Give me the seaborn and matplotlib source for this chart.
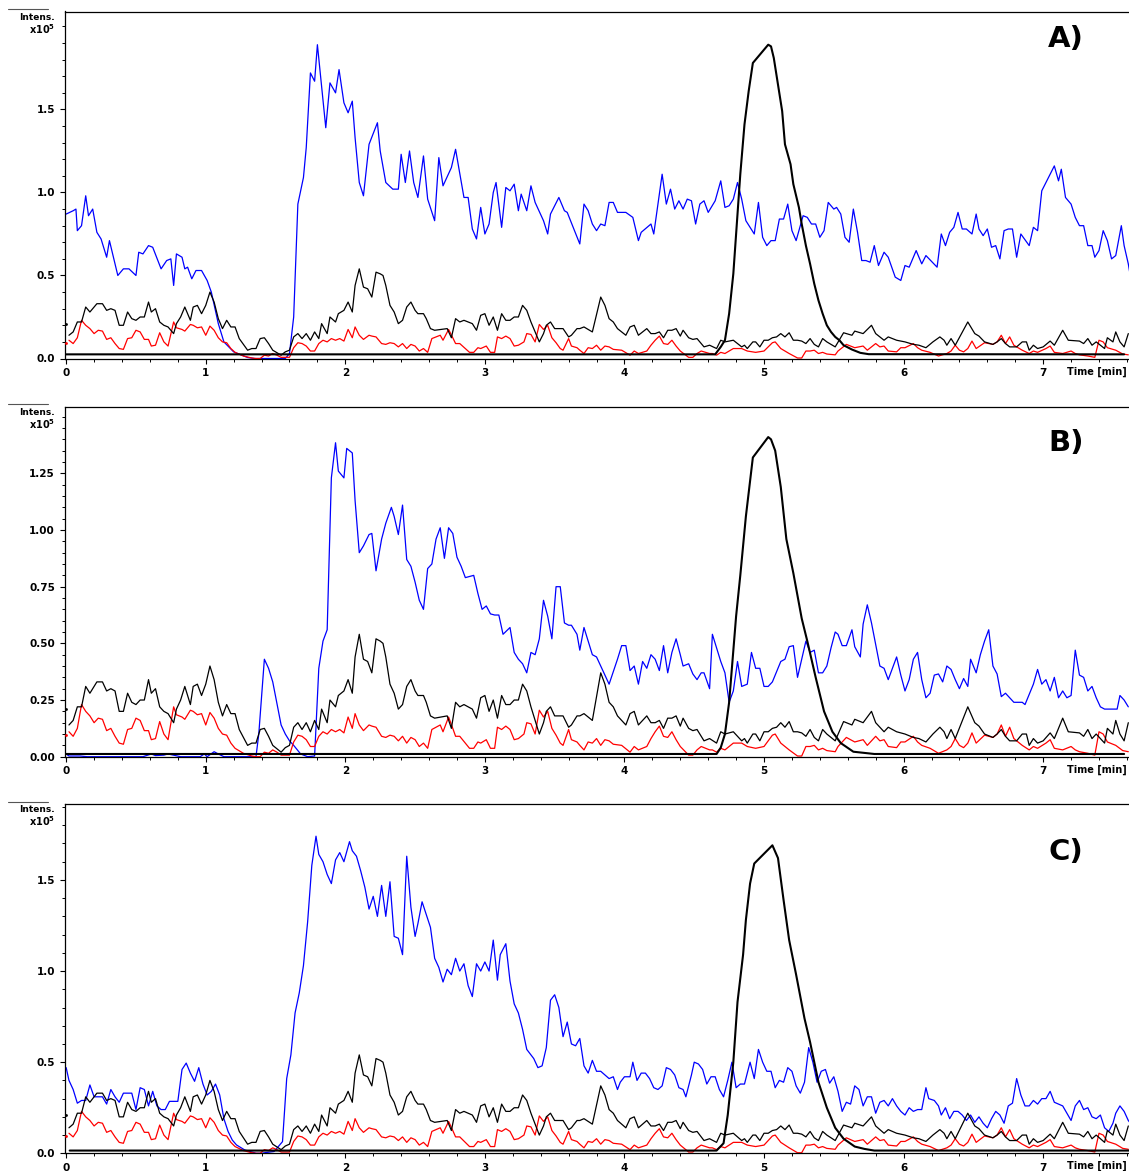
import numpy as np
import pandas as pd
import matplotlib
matplotlib.use("Agg")
import matplotlib.pyplot as plt
import seaborn as sns
from matplotlib.ticker import FixedLocator, MultipleLocator, FormatStrFormatter
from matplotlib.lines import Line2D

# ---------------- data (intensity in units of 1e5, time in min) ----------------
black_noise = [(0.00,0.21),(0.02,0.14),(0.05,0.16),(0.08,0.22),(0.11,0.22),(0.14,0.31),(0.17,0.28),(0.22,0.33),(0.26,0.33),
 (0.29,0.29),(0.32,0.30),(0.35,0.29),(0.38,0.20),(0.41,0.20),(0.44,0.28),(0.47,0.24),(0.50,0.23),(0.53,0.25),(0.56,0.25),
 (0.59,0.34),(0.61,0.28),(0.64,0.30),(0.67,0.22),(0.70,0.20),(0.73,0.19),(0.77,0.15),(0.79,0.21),(0.82,0.25),(0.85,0.31),
 (0.89,0.23),(0.91,0.31),(0.94,0.32),(0.97,0.27),(1.00,0.32),(1.03,0.40),(1.06,0.34),(1.09,0.24),(1.12,0.18),(1.15,0.23),
 (1.18,0.19),(1.21,0.19),(1.24,0.12),(1.30,0.05),(1.33,0.06),(1.36,0.06),(1.39,0.12),(1.42,0.125),(1.45,0.09),(1.48,0.05),
 (1.54,0.02),(1.57,0.04),(1.60,0.05),(1.63,0.13),(1.66,0.15),(1.69,0.12),(1.72,0.15),(1.75,0.11),(1.78,0.16),(1.81,0.12),
 (1.83,0.21),(1.87,0.15),(1.89,0.25),(1.93,0.22),(1.95,0.27),(1.99,0.29),(2.02,0.34),(2.05,0.28),(2.07,0.44),(2.10,0.54),
 (2.13,0.43),(2.16,0.42),(2.19,0.37),(2.22,0.52),(2.25,0.51),(2.27,0.50),(2.29,0.44),(2.32,0.32),(2.35,0.28),(2.38,0.21),
 (2.41,0.23),(2.44,0.31),(2.47,0.34),(2.50,0.29),(2.52,0.27),(2.56,0.27),(2.58,0.24),(2.61,0.18),(2.64,0.17),(2.73,0.18),
 (2.76,0.125),(2.79,0.24),(2.82,0.22),(2.85,0.23),(2.88,0.22),(2.91,0.21),(2.94,0.17),(2.97,0.26),(3.00,0.27),(3.03,0.20),
 (3.06,0.25),(3.09,0.17),(3.12,0.27),(3.15,0.23),(3.18,0.23),(3.21,0.25),(3.24,0.25),(3.27,0.32),(3.30,0.29),(3.33,0.22),
 (3.39,0.10),(3.42,0.15),(3.44,0.20),(3.47,0.22),(3.50,0.18),(3.56,0.18),(3.60,0.13),(3.62,0.14),(3.66,0.18),(3.68,0.18),
 (3.71,0.19),(3.77,0.16),(3.83,0.37),(3.86,0.32),(3.89,0.24),(3.92,0.22),(3.95,0.18),(3.98,0.16),(4.01,0.14),(4.04,0.19),
 (4.07,0.20),(4.10,0.14),(4.13,0.16),(4.16,0.18),(4.19,0.15),(4.22,0.15),(4.25,0.16),(4.28,0.125),(4.31,0.17),(4.34,0.17),
 (4.37,0.18),(4.40,0.135),(4.42,0.17),(4.46,0.125),(4.49,0.115),(4.52,0.12),(4.55,0.09),(4.57,0.07),(4.61,0.08),(4.66,0.06),
 (4.69,0.11),(4.72,0.10),(4.78,0.11),(4.84,0.07),(4.86,0.08),(4.88,0.06),(4.92,0.10),(4.94,0.10),(4.97,0.07),(5.00,0.11),
 (5.03,0.11),(5.06,0.125),(5.09,0.13),(5.12,0.15),(5.15,0.13),(5.18,0.155),(5.21,0.11),(5.24,0.11),(5.27,0.105),(5.30,0.09),
 (5.33,0.12),(5.36,0.085),(5.39,0.07),(5.42,0.12),(5.45,0.10),(5.51,0.07),(5.57,0.155),(5.63,0.14),(5.65,0.165),(5.71,0.15),
 (5.77,0.20),(5.80,0.15),(5.86,0.11),(5.89,0.13),(5.95,0.11),(6.01,0.10),(6.07,0.085),(6.11,0.08),(6.16,0.065),(6.21,0.10),
 (6.26,0.13),(6.29,0.11),(6.31,0.08),(6.34,0.12),(6.37,0.08),(6.46,0.22),(6.51,0.15),(6.54,0.135),(6.58,0.10),(6.64,0.085),
 (6.67,0.10),(6.70,0.12),(6.73,0.09),(6.76,0.07),(6.81,0.07),(6.85,0.10),(6.88,0.10),(6.90,0.05),(6.93,0.08),(6.96,0.06),
 (7.00,0.07),(7.05,0.105),(7.08,0.08),(7.14,0.17),(7.18,0.11),(7.26,0.105),(7.29,0.09),(7.32,0.12),(7.35,0.08),(7.38,0.10),
 (7.44,0.06),(7.46,0.125),(7.50,0.10),(7.52,0.16),(7.55,0.10),(7.58,0.07),(7.61,0.15)]

red_trace = [(0.00,0.095),(0.02,0.11),(0.05,0.09),(0.08,0.125),(0.11,0.23),(0.14,0.20),(0.17,0.18),(0.20,0.15),(0.23,0.17),
 (0.26,0.165),(0.29,0.115),(0.32,0.125),(0.35,0.09),(0.38,0.06),(0.41,0.055),(0.44,0.12),(0.47,0.125),(0.50,0.17),(0.53,0.16),
 (0.56,0.115),(0.59,0.115),(0.61,0.075),(0.64,0.08),(0.67,0.155),(0.70,0.10),(0.73,0.075),(0.77,0.22),(0.79,0.185),(0.83,0.175),
 (0.85,0.165),(0.89,0.205),(0.91,0.20),(0.94,0.185),(0.97,0.19),(1.00,0.14),(1.03,0.195),(1.06,0.17),(1.09,0.125),(1.12,0.10),
 (1.15,0.095),(1.18,0.06),(1.21,0.037),(1.27,0.015),(1.33,0.003),(1.36,0.0),(1.39,0.0),(1.42,0.02),(1.45,0.015),(1.48,0.03),
 (1.51,0.02),(1.54,0.007),(1.60,0.007),(1.63,0.065),(1.66,0.095),(1.69,0.09),(1.72,0.075),(1.75,0.045),(1.78,0.045),(1.81,0.09),
 (1.84,0.11),(1.87,0.10),(1.90,0.12),(1.93,0.11),(1.96,0.12),(1.99,0.105),(2.02,0.175),(2.05,0.125),(2.07,0.19),(2.10,0.14),
 (2.13,0.115),(2.17,0.14),(2.19,0.135),(2.22,0.13),(2.26,0.09),(2.29,0.085),(2.32,0.095),(2.35,0.09),(2.38,0.07),(2.41,0.09),
 (2.44,0.06),(2.47,0.085),(2.50,0.075),(2.53,0.045),(2.56,0.06),(2.59,0.037),(2.62,0.12),(2.65,0.13),(2.68,0.14),(2.70,0.11),
 (2.74,0.175),(2.77,0.125),(2.79,0.09),(2.82,0.09),(2.86,0.06),(2.89,0.037),(2.92,0.037),(2.95,0.065),(2.97,0.06),(3.01,0.075),
 (3.04,0.037),(3.07,0.037),(3.09,0.13),(3.12,0.12),(3.15,0.135),(3.18,0.12),(3.21,0.075),(3.24,0.08),(3.28,0.10),(3.30,0.15),
 (3.33,0.145),(3.36,0.10),(3.39,0.205),(3.42,0.175),(3.45,0.20),(3.48,0.125),(3.51,0.095),(3.54,0.06),(3.56,0.05),(3.60,0.12),
 (3.62,0.075),(3.66,0.065),(3.68,0.05),(3.71,0.03),(3.74,0.065),(3.77,0.06),(3.80,0.08),(3.83,0.05),(3.86,0.075),(3.89,0.07),
 (3.92,0.055),(3.98,0.05),(4.04,0.02),(4.07,0.045),(4.10,0.03),(4.16,0.045),(4.19,0.08),(4.22,0.11),(4.25,0.135),(4.28,0.09),
 (4.31,0.085),(4.34,0.11),(4.37,0.075),(4.40,0.045),(4.46,0.007),(4.49,0.007),(4.52,0.03),(4.55,0.045),(4.57,0.04),(4.61,0.03),
 (4.63,0.03),(4.66,0.02),(4.69,0.037),(4.72,0.03),(4.75,0.045),(4.78,0.06),(4.84,0.06),(4.88,0.045),(4.94,0.037),(5.00,0.045),
 (5.06,0.095),(5.08,0.10),(5.12,0.06),(5.18,0.03),(5.24,0.003),(5.27,0.003),(5.30,0.045),(5.33,0.045),(5.36,0.05),(5.39,0.03),
 (5.42,0.037),(5.45,0.027),(5.51,0.022),(5.53,0.045),(5.59,0.085),(5.65,0.065),(5.71,0.075),(5.74,0.05),(5.80,0.09),(5.83,0.07),
 (5.86,0.075),(5.89,0.045),(5.95,0.04),(5.98,0.065),(6.01,0.065),(6.07,0.09),(6.10,0.065),(6.13,0.05),(6.19,0.037),(6.25,0.015),
 (6.31,0.03),(6.34,0.045),(6.37,0.08),(6.40,0.05),(6.43,0.04),(6.46,0.06),(6.49,0.105),(6.52,0.06),(6.58,0.095),(6.64,0.085),
 (6.67,0.10),(6.70,0.14),(6.73,0.09),(6.76,0.13),(6.79,0.08),(6.85,0.05),(6.90,0.03),(6.93,0.045),(6.96,0.037),(7.02,0.06),
 (7.05,0.075),(7.08,0.037),(7.14,0.03),(7.20,0.045),(7.23,0.03),(7.26,0.022),(7.32,0.015),(7.37,0.007),(7.40,0.11),(7.43,0.10),
 (7.46,0.065),(7.52,0.05),(7.57,0.027),(7.61,0.022)]

peak_A = [(0.0,0.025),(4.65,0.025),(4.69,0.07),(4.72,0.11),(4.75,0.27),(4.78,0.51),(4.81,0.87),(4.83,1.11),(4.86,1.41),
 (4.89,1.61),(4.92,1.78),(4.97,1.83),(5.03,1.89),(5.05,1.88),(5.07,1.81),(5.10,1.65),(5.13,1.49),(5.15,1.29),(5.19,1.17),
 (5.21,1.05),(5.25,0.91),(5.27,0.81),(5.30,0.68),(5.33,0.57),(5.36,0.45),(5.39,0.35),(5.42,0.27),(5.45,0.20),(5.48,0.16),
 (5.51,0.13),(5.54,0.11),(5.57,0.08),(5.63,0.054),(5.69,0.034),(5.75,0.026),(7.58,0.025)]
peak_B = [(0.0,0.012),(4.66,0.012),(4.69,0.04),(4.72,0.10),(4.75,0.24),(4.80,0.62),(4.83,0.80),(4.87,1.06),(4.92,1.32),
 (5.03,1.41),(5.05,1.40),(5.08,1.35),(5.12,1.19),(5.16,0.96),(5.21,0.81),(5.27,0.61),(5.31,0.51),(5.37,0.35),(5.43,0.20),
 (5.49,0.11),(5.55,0.06),(5.64,0.022),(5.79,0.012),(7.58,0.012)]
peak_C = [(0.025,0.015),(4.66,0.015),(4.71,0.055),(4.74,0.21),(4.78,0.50),(4.81,0.83),(4.85,1.09),(4.87,1.28),(4.90,1.48),
 (4.93,1.59),(5.06,1.69),(5.10,1.62),(5.14,1.39),(5.18,1.17),(5.23,0.98),(5.29,0.74),(5.33,0.61),(5.39,0.39),(5.45,0.25),
 (5.51,0.14),(5.57,0.08),(5.65,0.037),(5.72,0.024),(5.79,0.015),(7.62,0.015)]

blue_A = [(0.00,0.87),(0.05,0.89),(0.07,0.90),(0.08,0.77),(0.11,0.80),(0.14,0.98),(0.16,0.86),(0.19,0.90),(0.22,0.76),
 (0.25,0.72),(0.29,0.61),(0.31,0.71),(0.37,0.50),(0.41,0.54),(0.45,0.54),(0.50,0.50),(0.52,0.64),(0.55,0.63),(0.59,0.68),
 (0.62,0.67),(0.68,0.54),(0.72,0.59),(0.75,0.60),(0.77,0.44),(0.79,0.63),(0.83,0.61),(0.85,0.54),(0.87,0.55),(0.90,0.48),
 (0.93,0.53),(0.97,0.53),(1.01,0.47),(1.04,0.40),(1.09,0.21),(1.13,0.10),(1.20,0.04),(1.30,0.006),(1.35,0.0),(1.57,0.0),
 (1.60,0.03),(1.63,0.25),(1.66,0.93),(1.70,1.09),(1.72,1.27),(1.75,1.72),(1.78,1.67),(1.80,1.89),(1.86,1.39),(1.89,1.66),
 (1.93,1.60),(1.955,1.74),(1.99,1.54),(2.02,1.48),(2.05,1.55),(2.07,1.33),(2.10,1.06),(2.13,0.98),(2.17,1.29),(2.23,1.42),
 (2.25,1.25),(2.29,1.06),(2.34,1.02),(2.38,1.02),(2.40,1.23),(2.43,1.06),(2.46,1.25),(2.49,1.06),(2.52,0.97),(2.56,1.22),
 (2.59,0.96),(2.64,0.83),(2.67,1.21),(2.70,1.04),(2.76,1.15),(2.79,1.26),(2.85,0.97),(2.88,0.97),(2.91,0.78),(2.94,0.72),
 (2.97,0.91),(3.00,0.75),(3.03,0.81),(3.06,1.00),(3.08,1.06),(3.12,0.79),(3.15,1.03),(3.18,1.01),(3.21,1.05),(3.24,0.89),
 (3.26,0.99),(3.30,0.89),(3.33,1.04),(3.36,0.94),(3.42,0.83),(3.45,0.75),(3.47,0.87),(3.53,0.97),(3.57,0.89),(3.59,0.88),
 (3.68,0.69),(3.71,0.93),(3.74,0.89),(3.77,0.81),(3.80,0.77),(3.83,0.81),(3.86,0.80),(3.89,0.94),(3.92,0.94),(3.95,0.88),
 (4.01,0.88),(4.06,0.85),(4.10,0.71),(4.12,0.76),(4.19,0.81),(4.21,0.75),(4.27,1.11),(4.30,0.93),(4.33,1.02),(4.36,0.90),
 (4.39,0.95),(4.42,0.90),(4.45,0.96),(4.48,0.95),(4.51,0.81),(4.54,0.93),(4.57,0.95),(4.60,0.88),(4.65,0.95),(4.69,1.07),
 (4.72,0.91),(4.75,0.92),(4.78,0.96),(4.81,1.06),(4.84,0.96),(4.87,0.83),(4.93,0.75),(4.96,0.94),(4.99,0.73),(5.02,0.68),
 (5.05,0.71),(5.08,0.71),(5.11,0.84),(5.14,0.84),(5.17,0.93),(5.20,0.77),(5.23,0.71),(5.28,0.86),(5.31,0.85),(5.34,0.81),
 (5.37,0.81),(5.40,0.73),(5.43,0.77),(5.46,0.94),(5.50,0.90),(5.52,0.91),(5.55,0.87),(5.58,0.73),(5.61,0.70),(5.64,0.90),
 (5.67,0.76),(5.70,0.59),(5.73,0.59),(5.76,0.58),(5.79,0.68),(5.82,0.56),(5.86,0.64),(5.89,0.61),(5.94,0.49),(5.98,0.47),
 (6.01,0.56),(6.04,0.55),(6.09,0.65),(6.13,0.57),(6.16,0.62),(6.24,0.55),(6.27,0.75),(6.30,0.68),(6.33,0.76),(6.36,0.79),
 (6.39,0.88),(6.42,0.78),(6.45,0.78),(6.49,0.75),(6.52,0.87),(6.54,0.78),(6.57,0.74),(6.60,0.78),(6.63,0.67),(6.66,0.68),
 (6.69,0.60),(6.72,0.77),(6.75,0.78),(6.78,0.78),(6.81,0.61),(6.84,0.75),(6.90,0.68),(6.93,0.79),(6.96,0.77),(6.99,1.01),
 (7.02,1.06),(7.08,1.16),(7.11,1.07),(7.13,1.14),(7.16,0.97),(7.20,0.93),(7.23,0.85),(7.26,0.80),(7.29,0.80),(7.32,0.68),
 (7.35,0.68),(7.37,0.61),(7.40,0.65),(7.43,0.77),(7.46,0.71),(7.49,0.60),(7.52,0.62),(7.56,0.80),(7.58,0.68),(7.61,0.57),
 (7.62,0.52)]

blue_B = [(0.00,0.012),(0.02,0.003),(0.10,0.003),(0.15,0.0),(0.32,0.0),(0.55,0.0),(0.61,0.012),(0.64,0.005),(0.70,0.007),
 (0.73,0.012),(0.82,0.0),(0.96,0.0),(0.99,0.012),(1.01,0.0),(1.06,0.022),(1.09,0.012),(1.13,0.0),(1.36,0.0),(1.38,0.10),
 (1.42,0.43),(1.45,0.39),(1.48,0.33),(1.51,0.235),(1.54,0.14),(1.57,0.10),(1.60,0.07),(1.63,0.05),(1.68,0.012),(1.73,0.0),
 (1.78,0.003),(1.81,0.39),(1.84,0.51),(1.87,0.56),(1.90,1.23),(1.93,1.385),(1.95,1.26),(1.99,1.23),(2.01,1.36),(2.05,1.34),
 (2.07,1.13),(2.10,0.90),(2.13,0.93),(2.17,0.98),(2.19,0.985),(2.22,0.82),(2.26,0.96),(2.29,1.03),(2.33,1.10),(2.35,1.06),
 (2.38,0.98),(2.41,1.11),(2.44,0.87),(2.47,0.84),(2.50,0.77),(2.53,0.69),(2.56,0.65),(2.59,0.83),(2.62,0.85),(2.65,0.96),
 (2.68,1.01),(2.71,0.875),(2.74,1.01),(2.77,0.985),(2.80,0.88),(2.83,0.84),(2.86,0.79),(2.92,0.80),(2.95,0.72),(2.98,0.65),
 (3.01,0.665),(3.04,0.63),(3.07,0.625),(3.10,0.625),(3.13,0.54),(3.18,0.57),(3.21,0.46),(3.24,0.43),(3.27,0.41),(3.30,0.37),
 (3.33,0.46),(3.36,0.45),(3.39,0.52),(3.42,0.69),(3.45,0.62),(3.48,0.52),(3.51,0.75),(3.54,0.75),(3.57,0.59),(3.60,0.58),
 (3.62,0.58),(3.66,0.54),(3.68,0.47),(3.71,0.57),(3.74,0.51),(3.77,0.45),(3.80,0.44),(3.89,0.32),(3.95,0.43),(3.98,0.49),
 (4.01,0.49),(4.04,0.38),(4.07,0.40),(4.10,0.32),(4.13,0.42),(4.16,0.39),(4.19,0.45),(4.22,0.43),(4.25,0.38),(4.28,0.49),
 (4.31,0.37),(4.34,0.46),(4.37,0.52),(4.40,0.45),(4.42,0.40),(4.46,0.41),(4.49,0.365),(4.52,0.34),(4.55,0.37),(4.57,0.37),
 (4.61,0.30),(4.63,0.54),(4.66,0.48),(4.69,0.42),(4.72,0.37),(4.75,0.24),(4.78,0.29),(4.81,0.42),(4.84,0.31),(4.88,0.32),
 (4.91,0.46),(4.94,0.39),(4.97,0.39),(5.00,0.31),(5.03,0.31),(5.06,0.33),(5.09,0.375),(5.12,0.42),(5.15,0.43),(5.18,0.485),
 (5.21,0.49),(5.24,0.35),(5.27,0.43),(5.30,0.51),(5.33,0.46),(5.36,0.47),(5.39,0.37),(5.42,0.37),(5.45,0.40),(5.48,0.48),
 (5.51,0.55),(5.53,0.54),(5.56,0.49),(5.59,0.49),(5.63,0.56),(5.65,0.485),(5.69,0.44),(5.71,0.585),(5.74,0.67),(5.77,0.59),
 (5.83,0.40),(5.86,0.39),(5.89,0.34),(5.92,0.39),(5.95,0.44),(5.98,0.36),(6.01,0.29),(6.04,0.34),(6.07,0.43),(6.10,0.46),
 (6.13,0.34),(6.16,0.26),(6.19,0.28),(6.22,0.36),(6.25,0.365),(6.28,0.33),(6.31,0.40),(6.34,0.385),(6.37,0.34),(6.40,0.30),
 (6.43,0.345),(6.46,0.31),(6.48,0.43),(6.52,0.37),(6.55,0.45),(6.58,0.51),(6.61,0.56),(6.64,0.40),(6.67,0.365),(6.70,0.265),
 (6.73,0.28),(6.79,0.24),(6.85,0.24),(6.87,0.23),(6.93,0.32),(6.96,0.385),(6.99,0.32),(7.02,0.34),(7.05,0.29),(7.08,0.35),
 (7.11,0.26),(7.14,0.29),(7.17,0.26),(7.20,0.27),(7.23,0.47),(7.26,0.36),(7.29,0.35),(7.32,0.29),(7.35,0.31),(7.38,0.26),
 (7.41,0.22),(7.44,0.21),(7.50,0.21),(7.53,0.21),(7.55,0.27),(7.58,0.25),(7.61,0.22)]

blue_C = [(0.00,0.47),(0.02,0.40),(0.05,0.35),(0.08,0.275),(0.11,0.29),(0.14,0.29),(0.17,0.375),(0.20,0.31),(0.23,0.31),
 (0.26,0.31),(0.29,0.27),(0.32,0.35),(0.35,0.31),(0.38,0.28),(0.41,0.33),(0.47,0.33),(0.50,0.24),(0.53,0.36),(0.56,0.35),
 (0.59,0.26),(0.62,0.34),(0.65,0.26),(0.68,0.24),(0.71,0.24),(0.74,0.285),(0.80,0.285),(0.83,0.46),(0.86,0.495),(0.89,0.44),
 (0.92,0.395),(0.95,0.47),(0.98,0.38),(1.01,0.32),(1.04,0.34),(1.07,0.38),(1.10,0.32),(1.13,0.19),(1.16,0.12),(1.19,0.073),
 (1.22,0.046),(1.28,0.018),(1.34,0.005),(1.36,0.0),(1.40,0.0),(1.43,0.004),(1.49,0.01),(1.52,0.037),(1.55,0.064),(1.58,0.41),
 (1.61,0.54),(1.64,0.77),(1.67,0.88),(1.70,1.03),(1.73,1.27),(1.76,1.58),(1.79,1.74),(1.81,1.64),(1.84,1.60),(1.87,1.53),
 (1.90,1.48),(1.93,1.61),(1.96,1.65),(1.99,1.60),(2.03,1.71),(2.05,1.66),(2.08,1.63),(2.11,1.55),(2.14,1.46),(2.17,1.34),
 (2.20,1.41),(2.23,1.30),(2.26,1.47),(2.29,1.30),(2.32,1.49),(2.35,1.19),(2.38,1.18),(2.41,1.09),(2.44,1.63),(2.47,1.35),
 (2.50,1.19),(2.52,1.26),(2.55,1.38),(2.61,1.24),(2.64,1.07),(2.67,1.02),(2.70,0.94),(2.73,1.01),(2.76,0.98),(2.79,1.07),
 (2.82,1.00),(2.85,1.04),(2.88,0.92),(2.91,0.86),(2.94,1.04),(2.97,1.00),(3.00,1.05),(3.03,1.00),(3.06,1.17),(3.09,0.95),
 (3.11,1.09),(3.15,1.15),(3.18,0.945),(3.21,0.82),(3.24,0.77),(3.27,0.68),(3.30,0.57),(3.33,0.54),(3.35,0.52),(3.38,0.47),
 (3.41,0.48),(3.44,0.58),(3.47,0.84),(3.50,0.87),(3.53,0.80),(3.56,0.64),(3.59,0.72),(3.62,0.60),(3.65,0.59),(3.68,0.63),
 (3.71,0.48),(3.74,0.44),(3.77,0.51),(3.80,0.45),(3.83,0.45),(3.89,0.41),(3.92,0.42),(3.95,0.35),(3.97,0.39),(4.00,0.42),
 (4.04,0.42),(4.06,0.50),(4.09,0.40),(4.12,0.44),(4.15,0.44),(4.18,0.41),(4.21,0.36),(4.24,0.35),(4.27,0.37),(4.30,0.47),
 (4.33,0.46),(4.36,0.43),(4.39,0.36),(4.42,0.35),(4.44,0.31),(4.48,0.43),(4.50,0.50),(4.53,0.49),(4.56,0.46),(4.59,0.38),
 (4.62,0.42),(4.65,0.42),(4.68,0.35),(4.71,0.31),(4.74,0.40),(4.77,0.50),(4.80,0.36),(4.83,0.38),(4.86,0.38),(4.90,0.50),
 (4.93,0.41),(4.96,0.57),(4.99,0.50),(5.02,0.45),(5.05,0.45),(5.08,0.36),(5.11,0.40),(5.14,0.39),(5.17,0.47),(5.20,0.45),
 (5.23,0.37),(5.26,0.33),(5.29,0.39),(5.32,0.58),(5.35,0.50),(5.38,0.39),(5.41,0.45),(5.44,0.46),(5.47,0.385),(5.50,0.42),
 (5.53,0.34),(5.56,0.23),(5.59,0.28),(5.62,0.27),(5.65,0.37),(5.68,0.35),(5.71,0.26),(5.74,0.31),(5.77,0.31),(5.80,0.22),
 (5.83,0.28),(5.86,0.29),(5.89,0.26),(5.92,0.30),(5.95,0.26),(5.98,0.23),(6.01,0.21),(6.04,0.25),(6.07,0.23),(6.10,0.24),
 (6.13,0.24),(6.16,0.36),(6.18,0.30),(6.22,0.29),(6.25,0.26),(6.27,0.21),(6.30,0.25),(6.33,0.19),(6.36,0.23),(6.39,0.23),
 (6.42,0.21),(6.45,0.18),(6.48,0.21),(6.51,0.17),(6.54,0.20),(6.57,0.165),(6.60,0.14),(6.63,0.19),(6.66,0.23),(6.69,0.21),
 (6.72,0.165),(6.75,0.26),(6.78,0.275),(6.81,0.41),(6.84,0.32),(6.87,0.26),(6.90,0.26),(6.93,0.29),(6.96,0.27),(6.99,0.30),
 (7.02,0.30),(7.05,0.34),(7.08,0.28),(7.14,0.26),(7.20,0.18),(7.23,0.26),(7.26,0.29),(7.29,0.24),(7.32,0.25),(7.35,0.20),
 (7.38,0.19),(7.41,0.21),(7.44,0.14),(7.47,0.12),(7.50,0.165),(7.52,0.22),(7.55,0.26),(7.58,0.23),(7.61,0.18),(7.62,0.17)]

panel_labels = ["A)", "B)", "C)"]
x_major_ticks = [0, 1, 2, 3, 4, 5, 6, 7]
y_major_A = [0.0, 0.5, 1.0, 1.5]
y_major_B = [0.0, 0.25, 0.50, 0.75, 1.00, 1.25]
y_major_C = [0.0, 0.5, 1.0, 1.5]

# ---------------- style ----------------
sns.set_style("ticks")
plt.rcParams["font.family"] = ["DejaVu Sans"]
plt.rcParams["font.weight"] = "bold"
for key in ("text.color", "axes.labelcolor", "xtick.color", "ytick.color", "axes.edgecolor"):
    plt.rcParams[key] = "black"

W, H = 1129, 1171
fig = plt.figure(figsize=(W / 100, H / 100), dpi=100)
fig.patch.set_facecolor("white")

LEFT = 64.5
panels = [
    dict(top=11.5, zero=358.5, ymax=2.09, major=y_major_A, minor=0.1, fmt="%.1f",
         blue=blue_A, peak=peak_A, label=panel_labels[0], label_y=39),
    dict(top=406.7, zero=756.7, ymax=1.544, major=y_major_B, minor=0.05, fmt="%.2f",
         blue=blue_B, peak=peak_B, label=panel_labels[1], label_y=443),
    dict(top=804.3, zero=1153.3, ymax=1.915, major=y_major_C, minor=0.1, fmt="%.1f",
         blue=blue_C, peak=peak_C, label=panel_labels[2], label_y=852),
]


def fy(ypx):
    return (H - ypx) / H


def draw(ax, pts, color, lw):
    t, v = zip(*pts)
    df = pd.DataFrame({"t": t, "v": v})
    sns.lineplot(data=df, x="t", y="v", ax=ax, color=color, linewidth=lw,
                 estimator=None, sort=False, legend=False)


def draw_split_start(ax, pts, color, lw):
    # first sample is shown as an isolated dot on the axis, the trace starts at the second
    draw(ax, pts[1:], color, lw)
    t0, v0 = pts[0]
    sns.scatterplot(x=[t0], y=[v0], ax=ax, color=color, s=4, linewidth=0,
                    legend=False, clip_on=False, zorder=3)


for p in panels:
    ax = fig.add_axes([LEFT / W, fy(p["zero"]), 1 - LEFT / W, (p["zero"] - p["top"]) / H])
    draw(ax, p["blue"], "#0000ff", 0.9)
    draw_split_start(ax, red_trace, "#ff0000", 0.9)
    draw_split_start(ax, black_noise, "black", 0.9)
    draw(ax, p["peak"], "black", 1.5)

    ax.set_xlim(-0.012, 7.615)
    ax.set_ylim(0, p["ymax"])
    ax.set_xlabel("")
    ax.set_ylabel("")
    ax.xaxis.set_major_locator(FixedLocator(x_major_ticks))
    ax.xaxis.set_minor_locator(MultipleLocator(0.2))
    ax.yaxis.set_major_locator(FixedLocator(p["major"]))
    ax.yaxis.set_minor_locator(MultipleLocator(p["minor"]))
    ax.yaxis.set_major_formatter(FormatStrFormatter(p["fmt"]))
    ax.tick_params(axis="both", which="major", direction="out", length=3.3, width=0.8,
                   labelsize=7.5, pad=3.5, colors="black")
    ax.tick_params(axis="both", which="minor", direction="out", length=2.0, width=0.7,
                   colors="black")
    for lab in ax.get_xticklabels() + ax.get_yticklabels():
        lab.set_fontweight("bold")
    ax.spines["right"].set_visible(False)
    for s in ("left", "top", "bottom"):
        ax.spines[s].set_linewidth(0.9)
        ax.spines[s].set_color("black")
    ax.set_facecolor("white")

    # header marks at top-left
    fig.add_artist(Line2D([8 / W, 48 / W], [fy(p["top"] - 2.5)] * 2, color="#555555", lw=0.8))
    fig.text(55 / W, fy(p["top"] + 5.5), "Intens.", ha="right", va="center",
             fontsize=6.5, fontweight="bold", color="black")
    fig.text(55 / W, fy(p["top"] + 22), r"x10$^{\mathbf{5}}$", ha="right", va="baseline",
             fontsize=7, fontweight="bold", color="black")
    fig.text(1066 / W, fy(p["label_y"]), p["label"], ha="center", va="center",
             fontsize=21, fontweight="bold", color="black")
    fig.text(1127 / W, fy(p["zero"] + 13), "Time [min]", ha="right", va="center",
             fontsize=7, fontweight="bold", color="black")

fig.savefig("out.png", dpi=100, facecolor="white")
